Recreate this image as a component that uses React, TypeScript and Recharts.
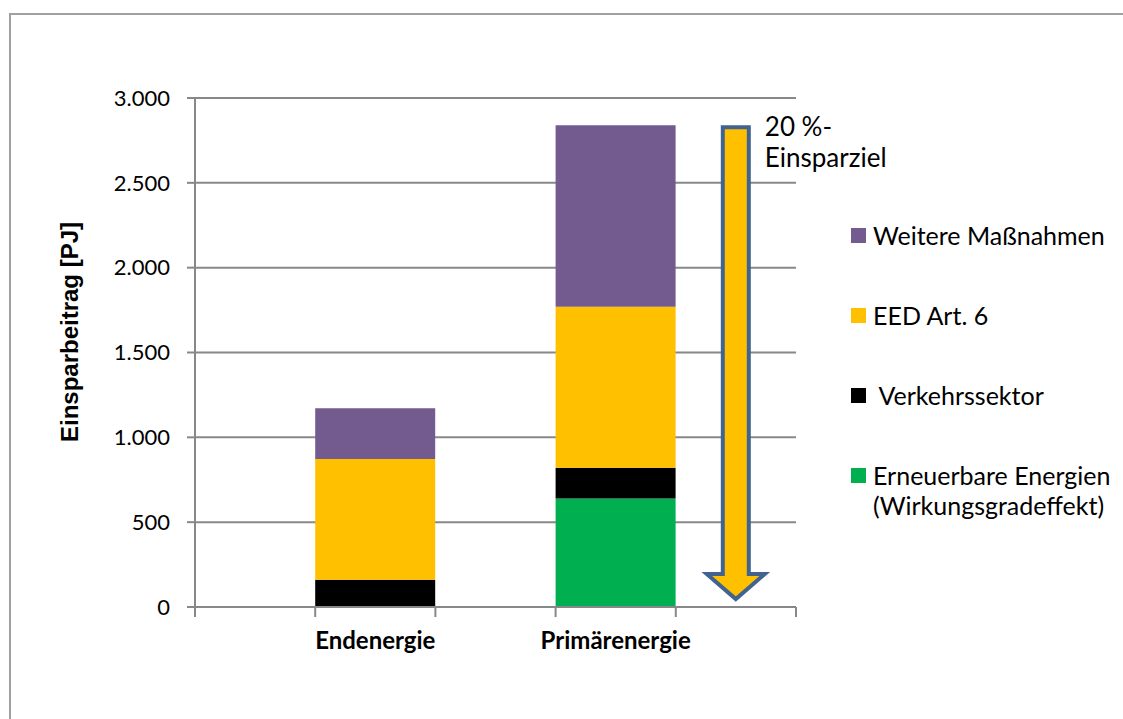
import React from 'react'
import { BarChart, Bar, XAxis, YAxis, CartesianGrid } from 'recharts'

// Kategorien (leere Felder sind Platzhalter wie im Excel-Original)
const categories = ['', 'Endenergie', '', 'Primärenergie', '']
const erneuerbare = [0, 0, 0, 640, 0]
const verkehr = [0, 160, 0, 180, 0]
const eed = [0, 712, 0, 950, 0]
const weitere = [0, 300, 0, 1070, 0]
const zielpfeil = [0, 0, 0, 0, 2840]
const yTicks = [0, 500, 1000, 1500, 2000, 2500, 3000]

const seriesNames = ['Erneuerbare Energien', 'Verkehrssektor', 'EED Art. 6', 'Weitere Maßnahmen']
const colors = ['#00B050', '#000000', '#FFC000', '#735B90']

const data = categories.map((name, i) => ({
  key: 'k' + i,
  name,
  erneuerbare: erneuerbare[i],
  verkehr: verkehr[i],
  eed: eed[i],
  weitere: weitere[i],
  ziel: zielpfeil[i],
}))

const calibri = 'Lato, "Open Sans", sans-serif'

const fmt = (v: number) => String(v).replace(/\B(?=(\d{3})+(?!\d))/g, '.')

const CatTick = (props: any) => {
  const { x, y, payload, index, visibleTicksCount } = props
  const half = payload && payload.offset ? payload.offset : 60
  const label = categories[index]
  const isLast = index === (visibleTicksCount ?? categories.length) - 1
  return (
    <g>
      <line x1={x - half} x2={x - half} y1={y} y2={y + 10} stroke="#888" strokeWidth={2} />
      {isLast && <line x1={x + half} x2={x + half} y1={y} y2={y + 10} stroke="#888" strokeWidth={2} />}
      {label && (
        <text x={x} y={y + 42} textAnchor="middle" fontFamily={calibri} fontWeight="bold" fontSize={24} fill="#000">
          {label}
        </text>
      )}
    </g>
  )
}

const Pfeil = (props: any) => {
  const { x, y, width, height } = props
  if (!height || height <= 0) return null
  const cx = x + width / 2
  const top = y + 2
  const bottom = y + height - 8
  const sw = 13
  const hw = 29
  const hh = 25
  const d = `M${cx - sw},${top} L${cx + sw},${top} L${cx + sw},${bottom - hh} L${cx + hw},${bottom - hh} L${cx},${bottom} L${cx - hw},${bottom - hh} L${cx - sw},${bottom - hh} Z`
  return (
    <g>
      <path d={d} fill="#FFC000" stroke="#41638F" strokeWidth={4} />
      <text x={cx + 29} y={y + 11} fontFamily={calibri} fontSize={26} fill="#000">20 %-</text>
      <text x={cx + 29} y={y + 42} fontFamily={calibri} fontSize={26} fill="#000">Einsparziel</text>
    </g>
  )
}

const LegendBox = () => {
  const order = [3, 2, 1, 0]
  return (
    <div style={{ position: 'absolute', left: 851, top: 220, width: 272, fontFamily: calibri, fontSize: 25, color: '#000' }}>
      {order.map((i) => (
        <div key={i} style={{ display: 'flex', alignItems: 'flex-start', height: 80 }}>
          <span style={{ display: 'inline-block', width: 15, height: 15, background: colors[i], marginTop: 8, marginRight: 7, flexShrink: 0 }} />
          <span style={{ lineHeight: '30px', whiteSpace: 'nowrap' }}>
            {i === 1 ? '\u00a0' + seriesNames[i] : i === 0 ? <>Erneuerbare Energien<br />(Wirkungsgradeffekt)</> : seriesNames[i]}
          </span>
        </div>
      ))}
    </div>
  )
}

const YLabel = () => (
  <text
    x={78}
    y={332}
    transform="rotate(-90, 78, 332)"
    textAnchor="middle"
    fontFamily='"Liberation Sans", Arial, sans-serif'
    fontWeight="bold"
    fontSize={24}
    fill="#000"
  >
    Einsparbeitrag [PJ]
  </text>
)

export default function App() {
  return (
    <div style={{ position: 'fixed', left: 0, top: 0, width: 1123, height: 719, overflow: 'hidden', background: '#fff' }}>
      <div style={{ position: 'absolute', left: 9, top: 13, width: 1200, height: 800, borderLeft: '2px solid #a0a0a0', borderTop: '2px solid #a0a0a0' }} />
      <div style={{ position: 'absolute', left: 0, top: 0 }}>
        <BarChart width={1123} height={719} data={data} margin={{ top: 98, right: 327, bottom: 72, left: 115 }} barCategoryGap={0} barGap={0}>
          <CartesianGrid vertical={false} stroke="#888" strokeWidth={2} />
          <XAxis dataKey="key" height={40} tickLine={false} tickSize={0} tickMargin={0} axisLine={{ stroke: '#888', strokeWidth: 2 }} tick={<CatTick />} interval={0} />
          <YAxis
            width={80}
            domain={[0, 3000]}
            ticks={yTicks}
            tickFormatter={fmt}
            tickSize={8}
            tickMargin={17}
            axisLine={{ stroke: '#888', strokeWidth: 2 }}
            tickLine={{ stroke: '#888', strokeWidth: 2 }}
            tick={{ fill: '#000', fontFamily: calibri, fontSize: 22 }}
            label={<YLabel />}
          />
          <Bar dataKey="erneuerbare" stackId="a" fill={colors[0]} isAnimationActive={false} />
          <Bar dataKey="verkehr" stackId="a" fill={colors[1]} isAnimationActive={false} />
          <Bar dataKey="eed" stackId="a" fill={colors[2]} isAnimationActive={false} />
          <Bar dataKey="weitere" stackId="a" fill={colors[3]} isAnimationActive={false} />
          <Bar dataKey="ziel" stackId="a" fill="#FFC000" shape={<Pfeil />} isAnimationActive={false} />
        </BarChart>
      </div>
      <LegendBox />
    </div>
  )
}
